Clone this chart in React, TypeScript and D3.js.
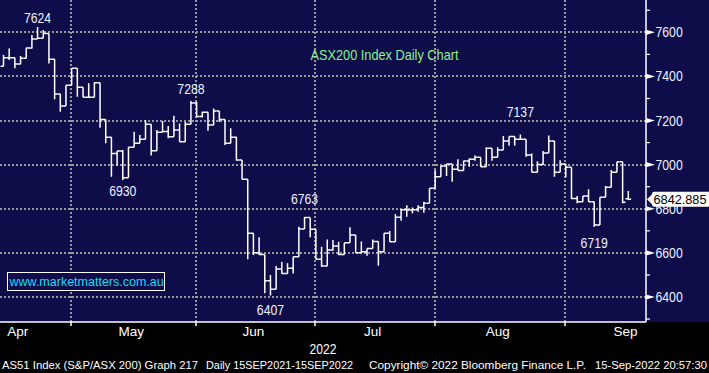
import React, { useEffect, useRef } from 'react';
import * as d3 from 'd3';

// trading days shown (Apr 11 - Sep 16 2022)
const dates = [
  '2022-04-11', '2022-04-12', '2022-04-13', '2022-04-14', '2022-04-19', '2022-04-20', '2022-04-21', '2022-04-22',
  '2022-04-26', '2022-04-27', '2022-04-28', '2022-04-29',
  '2022-05-02', '2022-05-03', '2022-05-04', '2022-05-05', '2022-05-06', '2022-05-09', '2022-05-10', '2022-05-11',
  '2022-05-12', '2022-05-13', '2022-05-16', '2022-05-17', '2022-05-18', '2022-05-19', '2022-05-20', '2022-05-23',
  '2022-05-24', '2022-05-25', '2022-05-26', '2022-05-27', '2022-05-30', '2022-05-31',
  '2022-06-01', '2022-06-02', '2022-06-03', '2022-06-06', '2022-06-07', '2022-06-08', '2022-06-09', '2022-06-10',
  '2022-06-14', '2022-06-15', '2022-06-16', '2022-06-17', '2022-06-20', '2022-06-21', '2022-06-22', '2022-06-23',
  '2022-06-24', '2022-06-27', '2022-06-28', '2022-06-29', '2022-06-30',
  '2022-07-01', '2022-07-04', '2022-07-05', '2022-07-06', '2022-07-07', '2022-07-08', '2022-07-11', '2022-07-12',
  '2022-07-13', '2022-07-14', '2022-07-15', '2022-07-18', '2022-07-19', '2022-07-20', '2022-07-21', '2022-07-22',
  '2022-07-25', '2022-07-26', '2022-07-27', '2022-07-28', '2022-07-29',
  '2022-08-01', '2022-08-02', '2022-08-03', '2022-08-04', '2022-08-05', '2022-08-08', '2022-08-09', '2022-08-10',
  '2022-08-11', '2022-08-12', '2022-08-15', '2022-08-16', '2022-08-17', '2022-08-18', '2022-08-19', '2022-08-22',
  '2022-08-23', '2022-08-24', '2022-08-25', '2022-08-26', '2022-08-29', '2022-08-30', '2022-08-31',
  '2022-09-01', '2022-09-02', '2022-09-05', '2022-09-06', '2022-09-07', '2022-09-08', '2022-09-09', '2022-09-12',
  '2022-09-13', '2022-09-14', '2022-09-15', '2022-09-16',
];

const open = [
  7446, 7485, 7485, 7456, 7482, 7529, 7570, 7573, 7595, 7478, 7320, 7266,
  7360, 7437, 7351, 7305, 7305, 7371, 7205, 7124, 7051, 7062, 6941, 7079, 7097, 7115, 7183, 7063, 7147, 7150, 7127, 7157, 7104, 7183,
  7280, 7218, 7237, 7180, 7243, 7205, 7097, 7124, 7021, 6934, 6689, 6601, 6593, 6474, 6435, 6527, 6507, 6530, 6583, 6708, 6760,
  6707, 6571, 6540, 6613, 6631, 6593, 6646, 6681, 6601, 6605, 6620, 6652, 6605, 6689, 6651, 6761, 6796, 6794, 6796, 6806, 6825,
  6893, 6945, 6994, 7003, 6979, 6974, 7017, 7024, 7033, 6991, 7074, 7033, 7066, 7107, 7128, 7115, 7115, 7044, 6965, 7001, 7053, 7107, 6965,
  7003, 6988, 6847, 6832, 6858, 6832, 6726, 6852, 6897, 6965, 7013, 6845,
];

const high = [
  7497, 7527, 7485, 7492, 7530, 7588, 7624, 7610, 7595, 7478, 7320, 7360,
  7437, 7437, 7351, 7369, 7373, 7371, 7205, 7124, 7062, 7066, 7079, 7149, 7134, 7202, 7183, 7157, 7198, 7175, 7222, 7187, 7195, 7288,
  7285, 7240, 7237, 7255, 7243, 7205, 7165, 7127, 7021, 6934, 6689, 6671, 6593, 6500, 6540, 6559, 6553, 6583, 6719, 6763, 6758,
  6707, 6628, 6661, 6658, 6651, 6646, 6716, 6681, 6652, 6620, 6661, 6652, 6689, 6699, 6776, 6799, 6816, 6806, 6816, 6832, 6893,
  6976, 6994, 7003, 7003, 7024, 7018, 7029, 7041, 7033, 7079, 7074, 7079, 7130, 7128, 7128, 7137, 7115, 7050, 7015, 7062, 7132, 7107, 7020,
  7003, 6988, 6858, 6858, 6888, 6832, 6852, 6903, 6976, 7013, 7013, 6880,
];

const low = [
  7446, 7474, 7437, 7455, 7482, 7527, 7570, 7573, 7459, 7296, 7240, 7266,
  7360, 7308, 7305, 7305, 7305, 7167, 7097, 6945, 6995, 6930, 6941, 7079, 7097, 7115, 7041, 7063, 7147, 7120, 7127, 7104, 7104, 7183,
  7214, 7214, 7154, 7180, 7195, 7089, 7097, 7018, 6934, 6571, 6590, 6590, 6417, 6407, 6435, 6505, 6505, 6507, 6583, 6708, 6671,
  6571, 6537, 6540, 6610, 6590, 6593, 6646, 6601, 6601, 6587, 6620, 6542, 6605, 6651, 6651, 6746, 6764, 6779, 6787, 6782, 6825,
  6893, 6945, 6948, 6923, 6973, 6973, 6991, 7018, 6991, 6991, 7018, 7033, 7066, 7086, 7086, 7115, 7036, 6965, 6965, 6998, 7053, 6945, 6965,
  6943, 6844, 6825, 6832, 6832, 6719, 6726, 6852, 6897, 6965, 6825, 6840,
];

const close = [
  7485, 7485, 7456, 7482, 7529, 7570, 7573, 7595, 7478, 7320, 7266, 7360,
  7437, 7351, 7305, 7305, 7371, 7205, 7124, 7051, 7062, 6941, 7079, 7097, 7115, 7183, 7063, 7147, 7150, 7127, 7157, 7104, 7183, 7280,
  7218, 7237, 7180, 7243, 7205, 7097, 7124, 7021, 6934, 6689, 6601, 6593, 6474, 6435, 6527, 6507, 6530, 6583, 6708, 6760, 6707,
  6571, 6540, 6613, 6631, 6593, 6646, 6681, 6601, 6605, 6620, 6652, 6605, 6689, 6651, 6761, 6796, 6794, 6796, 6806, 6825, 6893,
  6945, 6994, 7003, 6979, 6974, 7017, 7024, 7033, 6991, 7074, 7033, 7066, 7107, 7128, 7115, 7115, 7044, 6965, 7001, 7053, 7107, 6965, 7003,
  6988, 6847, 6832, 6858, 6832, 6726, 6852, 6897, 6965, 7013, 6829, 6842.885,
];

const monthLabels = ['Apr', 'May', 'Jun', 'Jul', 'Aug', 'Sep'];
const monthTradingDays = [18, 22, 21, 21, 23, 22];
const yTicks = [6400, 6600, 6800, 7000, 7200, 7400, 7600];
const yMinorTicks = [6300, 6500, 6700, 6900, 7100, 7300, 7500, 7700];

// highs / lows marked on the chart (bar index, which end)
const extremes = [
  { i: 6, kind: 'high', dy: -4 },
  { i: 21, kind: 'low', dy: 16 },
  { i: 33, kind: 'high', dy: -7 },
  { i: 47, kind: 'low', dy: 20 },
  { i: 53, kind: 'high', dy: -13 },
  { i: 91, kind: 'high', dy: -17 },
  { i: 104, kind: 'low', dy: 21 },
];

const title = 'ASX200 Index Daily Chart';
const source = 'www.marketmatters.com.au';
const yearLabel = '2022';
const footer = [
  'AS51 Index (S&P/ASX 200) Graph 217',
  'Daily 15SEP2021-15SEP2022',
  'Copyright\u00a9 2022 Bloomberg Finance L.P.',
  '15-Sep-2022 20:57:30',
];

const NAVY = '#0f0c4a';
const FONT = "'Liberation Sans', Arial, sans-serif";
const DIGIT = 6.8; // narrow digit width

const App = () => {
  const ref = useRef(null);

  useEffect(() => {
    if (!ref.current) return;
    const width = 709;
    const height = 373;
    const plotRight = 646;
    const plotBottom = 322;

    const svg = d3.select(ref.current);
    svg.selectAll('*').remove();
    svg.attr('width', width).attr('height', height);

    const x = d3.scaleLinear().domain([0, dates.length - 1]).range([3.5, 628.3]);
    const y = d3.scaleLinear().domain([6400, 7600]).range([297, 32.3]);
    const half = (x(1) - x(0)) / 2;

    svg.append('rect').attr('width', width).attr('height', height).attr('fill', '#000');
    svg.append('rect').attr('width', width).attr('height', plotBottom).attr('fill', NAVY);

    // month starts
    const byMonth = d3.groups(dates.map((d, i) => ({ d, i })), (e) => e.d.slice(0, 7));
    const monthStarts = byMonth.map((g) => g[1][0].i);

    const grid = svg.append('g')
      .attr('stroke', '#9a9a9a')
      .attr('stroke-width', 2)
      .attr('stroke-dasharray', '2 2');
    grid.selectAll('line.h')
      .data(yTicks)
      .enter().append('line')
        .attr('class', 'h')
        .attr('x1', 0).attr('x2', plotRight)
        .attr('y1', (d) => Math.round(y(d))).attr('y2', (d) => Math.round(y(d)));
    grid.selectAll('line.v')
      .data(monthStarts.slice(1))
      .enter().append('line')
        .attr('class', 'v')
        .attr('x1', (d) => Math.round(x(d) - 0.5)).attr('x2', (d) => Math.round(x(d) - 0.5))
        .attr('y1', 0).attr('y2', plotBottom);

    // bars: high-low with open tick left, close tick right
    svg.append('g')
      .selectAll('path')
      .data(dates.map((d, i) => i))
      .enter().append('path')
        .attr('d', (i) => {
          const cx = x(i);
          return `M${cx},${y(high[i])}V${y(low[i])}M${cx - half},${y(open[i])}H${cx}M${cx},${y(close[i])}H${cx + half}`;
        })
        .attr('fill', 'none')
        .attr('stroke', '#fff')
        .attr('stroke-width', 1.5);

    // high / low annotations
    svg.append('g')
      .selectAll('text')
      .data(extremes)
      .enter().append('text')
        .attr('x', (d) => x(d.i))
        .attr('y', (d) => y(d.kind === 'high' ? high[d.i] : low[d.i]) + d.dy)
        .attr('text-anchor', 'middle')
        .attr('font-family', FONT)
        .attr('font-size', 14.5)
        .attr('textLength', 4 * DIGIT)
        .attr('lengthAdjust', 'spacingAndGlyphs')
        .attr('fill', '#eef4ff')
        .text((d) => String(d.kind === 'high' ? high[d.i] : low[d.i]));

    // title
    svg.append('text')
      .attr('x', 310.5).attr('y', 59.5)
      .attr('font-family', FONT)
      .attr('font-size', 14.5)
      .attr('textLength', 148)
      .attr('lengthAdjust', 'spacingAndGlyphs')
      .attr('fill', '#8ef08e')
      .text(title);

    // source box
    svg.append('rect')
      .attr('x', 7.5).attr('y', 272.5).attr('width', 157).attr('height', 18)
      .attr('fill', NAVY).attr('stroke', '#fff').attr('stroke-width', 1);
    svg.append('text')
      .attr('x', 9.5).attr('y', 286)
      .attr('font-family', FONT)
      .attr('font-size', 12.5)
      .attr('fill', '#10dcf4')
      .text(source);

    // right axis
    const axis = svg.append('g');
    axis.append('line')
      .attr('x1', plotRight).attr('x2', plotRight).attr('y1', 0).attr('y2', plotBottom)
      .attr('stroke', '#fff').attr('stroke-width', 1.5);
    axis.selectAll('line.minor')
      .data(yMinorTicks)
      .enter().append('line')
        .attr('class', 'minor')
        .attr('x1', plotRight).attr('x2', plotRight + 4)
        .attr('y1', (d) => y(d)).attr('y2', (d) => y(d))
        .attr('stroke', '#fff').attr('stroke-width', 1.2);
    axis.selectAll('path.major')
      .data(yTicks)
      .enter().append('path')
        .attr('class', 'major')
        .attr('d', (d) => `M${plotRight},${y(d) - 2.6}L${plotRight + 9},${y(d)}L${plotRight},${y(d) + 2.6}Z`)
        .attr('fill', '#fff');
    axis.selectAll('text')
      .data(yTicks)
      .enter().append('text')
        .attr('x', plotRight + 9.5)
        .attr('y', (d) => y(d) + 5)
        .attr('font-family', FONT)
        .attr('font-size', 14.5)
        .attr('textLength', 4 * DIGIT)
        .attr('lengthAdjust', 'spacingAndGlyphs')
        .attr('fill', '#eef4ff')
        .text((d) => String(d));

    // last price marker
    const last = close[close.length - 1];
    const ly = y(last);
    axis.append('path')
      .attr('d', `M${plotRight + 1},${ly}L${plotRight + 6},${ly - 5}V${ly - 5.5}Q${plotRight + 6},${ly - 7.5} ${plotRight + 8},${ly - 7.5}H${width}V${ly + 7.5}H${plotRight + 8}Q${plotRight + 6},${ly + 7.5} ${plotRight + 6},${ly + 5.5}V${ly + 5}Z`)
      .attr('fill', '#fff');
    axis.append('text')
      .attr('x', plotRight + 7.5).attr('y', ly + 5)
      .attr('font-family', FONT)
      .attr('font-size', 13)
      .attr('textLength', 53)
      .attr('lengthAdjust', 'spacingAndGlyphs')
      .attr('fill', '#000')
      .text(d3.format('.3f')(last));

    // bottom axis
    svg.append('line')
      .attr('x1', 0).attr('x2', plotRight).attr('y1', plotBottom).attr('y2', plotBottom)
      .attr('stroke', '#fff').attr('stroke-width', 1.5);
    svg.append('g')
      .selectAll('line')
      .data(monthStarts.slice(1))
      .enter().append('line')
        .attr('x1', (d) => Math.round(x(d) - 0.5)).attr('x2', (d) => Math.round(x(d) - 0.5))
        .attr('y1', plotBottom).attr('y2', plotBottom + 4)
        .attr('stroke', '#fff').attr('stroke-width', 1.5);

    // month labels centred on each month's full trading span
    const monthCentres = byMonth.map((g, m) => {
      const first = g[1][0].i;
      const lastIdx = g[1][g[1].length - 1].i;
      const start = m === 0 ? lastIdx - (monthTradingDays[m] - 1) : first;
      return (start + start + monthTradingDays[m] - 1) / 2;
    });
    svg.append('g')
      .selectAll('text')
      .data(monthLabels)
      .enter().append('text')
        .attr('x', (d, m) => x(monthCentres[m]))
        .attr('y', 336)
        .attr('text-anchor', 'middle')
        .attr('font-family', FONT)
        .attr('font-size', 13.5)
        .attr('fill', '#fff')
        .text((d) => d);
    svg.append('text')
      .attr('x', 323).attr('y', 354)
      .attr('text-anchor', 'middle')
      .attr('font-family', FONT)
      .attr('font-size', 14)
      .attr('textLength', 27)
      .attr('lengthAdjust', 'spacingAndGlyphs')
      .attr('fill', '#fff')
      .text(yearLabel);

    const footerX = [2, 206, 369, 595];
    const footerW = [196, 147, 217, 112];
    svg.append('g')
      .selectAll('text')
      .data(footer)
      .enter().append('text')
        .attr('x', (d, k) => footerX[k])
        .attr('y', 369)
        .attr('textLength', (d, k) => footerW[k])
        .attr('lengthAdjust', 'spacingAndGlyphs')
        .attr('font-family', FONT)
        .attr('font-size', 11.5)
        .attr('fill', '#fff')
        .text((d) => d);
  }, []);

  return (
    <svg
      ref={ref}
      style={{ position: 'absolute', left: 0, top: 0, display: 'block' }}
    />
  );
};

export default App;
